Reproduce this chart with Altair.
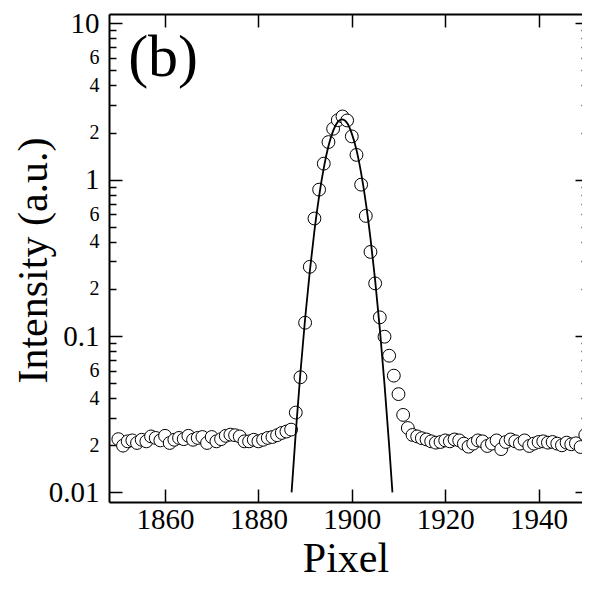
import altair as alt
import pandas as pd

# ---------------- data ----------------
pixels = list(range(1850, 1951))
intensity = [
    0.0219, 0.0199, 0.0212, 0.0215, 0.0207, 0.0217, 0.0212, 0.0228, 0.0223, 0.0215,
    0.0230, 0.0207, 0.0217, 0.0223, 0.0219, 0.0230, 0.0217, 0.0223, 0.0226, 0.0207,
    0.0226, 0.0212, 0.0219, 0.0230, 0.0234, 0.0232, 0.0228, 0.0212, 0.0212, 0.0217,
    0.0212, 0.0217, 0.0223, 0.0226, 0.0232, 0.0240, 0.0245, 0.0252,
    0.0324, 0.0545, 0.1216, 0.277, 0.564, 0.863, 1.265, 1.738, 2.115, 2.40,
    2.535, 2.39, 1.89, 1.44, 0.929, 0.586, 0.345, 0.217, 0.1316, 0.099,
    0.0748, 0.0558, 0.0425, 0.0313, 0.0258, 0.0233, 0.0228,
    0.0222, 0.0218, 0.0212, 0.0208, 0.0210, 0.0215, 0.0212, 0.0218, 0.0215, 0.0205,
    0.0196, 0.0205, 0.0215, 0.0212, 0.0198, 0.0205, 0.0215, 0.0189, 0.0210, 0.0218,
    0.0212, 0.0205, 0.0215, 0.0198, 0.0205, 0.0210, 0.0212, 0.0208, 0.0210, 0.0205,
    0.0200, 0.0208, 0.0203, 0.0206, 0.0195, 0.0233,
]

fit_pixel = [1887.1, 1888, 1889, 1890, 1891, 1892, 1893, 1894, 1895, 1896, 1897,
             1897.9, 1899, 1900, 1901, 1902, 1903, 1904, 1905, 1906, 1907, 1908, 1908.7]
fit_intensity = [0.0100, 0.0241, 0.0584, 0.129, 0.258, 0.472, 0.785, 1.19, 1.64, 2.05, 2.34,
                 2.43, 2.30, 1.97, 1.55, 1.10, 0.714, 0.421, 0.227, 0.111, 0.0492, 0.0199, 0.0100]

x_tick_values = [1860, 1880, 1900, 1920, 1940]
y_label_values = [0.01, 0.02, 0.04, 0.06, 0.1, 0.2, 0.4, 0.6, 1, 2, 4, 6, 10]
y_tick_values = [0.01, 0.02, 0.03, 0.04, 0.05, 0.06, 0.07, 0.08, 0.09,
                 0.1, 0.2, 0.3, 0.4, 0.5, 0.6, 0.7, 0.8, 0.9,
                 1, 2, 3, 4, 5, 6, 7, 8, 9, 10]

panel_label = ["(b)"]
panel_label_x = [1852.1]
panel_label_y = [4.6]

x_title = "Pixel"
y_title = "Intensity (a.u.)"

# ---------------- layout ----------------
# visible plot area: x 109..582 on the page (page is 590 wide with 8px margins),
# y 14..502
W, H = 473, 488
FONT = "Liberation Serif, Times New Roman, serif"

points_df = pd.DataFrame({"pixel": pixels, "intensity": intensity})
fit_df = pd.DataFrame({"pixel": fit_pixel, "intensity": fit_intensity})
label_df = pd.DataFrame({"t": panel_label, "px": panel_label_x, "iy": panel_label_y})

xscale = alt.Scale(domain=[1848, 1949.3], nice=False, zero=False)
yscale = alt.Scale(type="log", domain=[0.00868, 11.46], nice=False)

major = "abs(log(datum.value)/LN10 - round(log(datum.value)/LN10)) < 0.001"
label_expr = (
    f"({major}) ? format(datum.value, '~g') : "
    "format(round(datum.value / pow(10, floor(log(datum.value)/LN10 + 0.0001))), 'd')"
)

# axis carrying the labels + left/bottom frame lines
x_label_axis = alt.Axis(orient="bottom", values=x_tick_values, ticks=False, grid=False,
                        format="d",
                        domain=True, domainColor="black", domainWidth=2,
                        labelFont=FONT, labelFontSize=29, labelColor="black", labelPadding=3,
                        title=x_title, titleFont=FONT, titleFontSize=42, titleFontWeight="normal",
                        titleColor="black", titleBaseline="alphabetic", titleY=69)
y_label_axis = alt.Axis(orient="left", values=y_label_values, ticks=False, grid=False,
                        domain=True, domainColor="black", domainWidth=2,
                        labelFont=FONT, labelColor="black", labelPadding=10,
                        labelFontSize={"condition": {"test": major, "value": 29}, "value": 20},
                        labelExpr=label_expr,
                        title=y_title, titleFont=FONT, titleFontSize=42, titleFontWeight="normal",
                        titleColor="black", titleX=-76, titleY=H / 2 + 2,
                        titleBaseline="middle", titleAngle=270)

# inward ticks along the bottom and left edges
x_bottom_ticks = alt.Axis(orient="top", offset=-H, values=x_tick_values, labels=False,
                          domain=False, grid=False, tickSize=13, tickWidth=1.5,
                          tickColor="black", title=None)
y_left_ticks = alt.Axis(orient="right", offset=-W, values=y_tick_values, labels=False,
                        domain=False, grid=False, tickWidth=1.5, tickColor="black",
                        tickSize={"condition": {"test": major, "value": 13}, "value": 7},
                        title=None)

# inward ticks along the top and right edges (+ top frame line)
x_top_ticks = alt.Axis(orient="bottom", offset=-H, values=x_tick_values, labels=False,
                       domain=True, domainColor="black", domainWidth=2, grid=False,
                       tickSize=13, tickWidth=1.5, tickColor="black", title=None)
y_right_ticks = alt.Axis(orient="left", offset=-(W + 6), values=y_tick_values, labels=False,
                         domain=False, grid=False, tickWidth=1.5, tickColor="black",
                         tickSize={"condition": {"test": major, "value": 13}, "value": 7},
                         title=None)

points = alt.Chart(points_df).mark_circle(
    size=165, fill="white", stroke="black", strokeWidth=1, opacity=1
).encode(
    x=alt.X("pixel:Q", scale=xscale, axis=x_label_axis),
    y=alt.Y("intensity:Q", scale=yscale, axis=y_label_axis),
)

fit = alt.Chart(fit_df).mark_line(color="black", strokeWidth=1.8, interpolate="monotone").encode(
    x=alt.X("pixel:Q", scale=xscale, axis=x_bottom_ticks),
    y=alt.Y("intensity:Q", scale=yscale, axis=y_left_ticks),
)

ghost = alt.Chart(fit_df).mark_point(opacity=0).encode(
    x=alt.X("pixel:Q", scale=xscale, axis=x_top_ticks),
    y=alt.Y("intensity:Q", scale=yscale, axis=y_right_ticks),
)

text = alt.Chart(label_df).mark_text(
    font=FONT, fontSize=60, color="black", align="left", baseline="alphabetic"
).encode(
    x=alt.X("px:Q", scale=xscale, axis=None),
    y=alt.Y("iy:Q", scale=yscale, axis=None),
    text="t:N",
)

chart = (
    alt.layer(points, fit, ghost, text)
    .resolve_axis(x="independent", y="independent")
    .resolve_scale(x="shared", y="shared")
    .properties(width=W, height=H,
                autosize=alt.AutoSizeParams(type="none"),
                padding={"left": 101, "top": 6, "right": 0, "bottom": 78},
                background="white")
    .configure_view(strokeWidth=0)
)

chart.save("out.html", embed_options={"renderer": "svg", "actions": False})
